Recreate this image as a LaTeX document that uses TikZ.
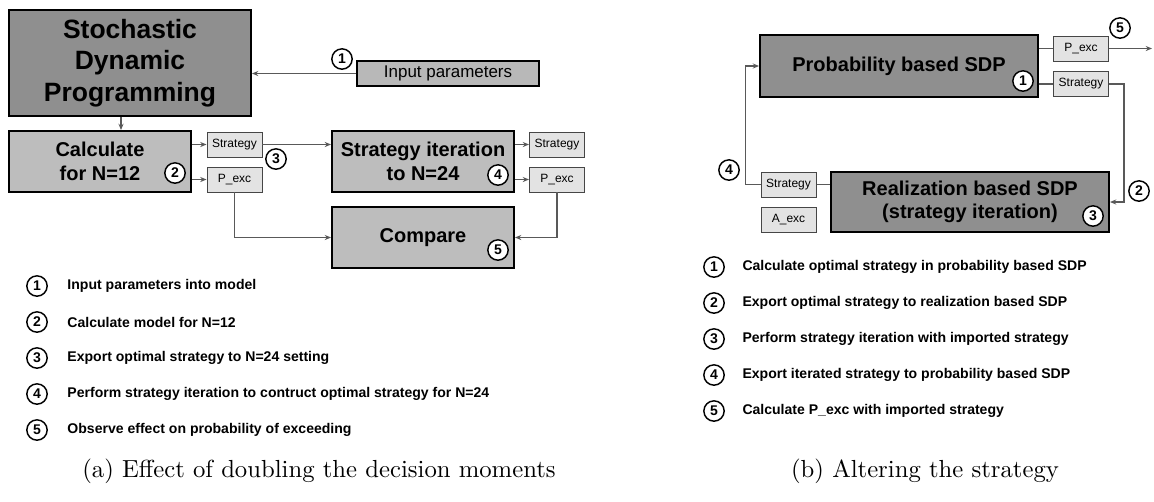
\documentclass[tikz,border=0pt]{standalone}
\usepackage{fontspec}
\newfontfamily\arial{Liberation Sans}
\usetikzlibrary{arrows.meta}
\definecolor{tmava}{gray}{0.56}
\definecolor{stredni}{gray}{0.74}
\definecolor{vstup}{gray}{0.72}
\definecolor{svetla}{gray}{0.89}
\definecolor{cara}{gray}{0.35}
\begin{document}
\begin{tikzpicture}[x=0.413pt,y=-0.413pt,>=Stealth,
  rozmer/.style 2 args={minimum width=#1*0.413pt,minimum height=#2*0.413pt},
  velky/.style={draw=black,line width=0.8pt,fill=tmava,align=center,inner sep=0pt,
    font=\arial\bfseries\fontsize{8.26}{9.7}\selectfont},
  blok/.style={velky,fill=stredni},
  maly/.style={draw=gray!55!black,line width=0.4pt,fill=svetla,inner sep=0pt,rozmer={55}{25},
    font=\arial\fontsize{4.96}{6}\selectfont},
  kolo/.style={circle,draw=black,fill=white,line width=0.6pt,minimum size=8.4pt,inner sep=0pt,
    font=\arial\bfseries\fontsize{5.8}{6}\selectfont},
  spoj/.style={draw=cara,line width=0.45pt},
  sipka/.style={spoj,-{Stealth[length=2.6pt,width=2.1pt]}},
  popis/.style={anchor=west,inner sep=0pt,font=\arial\bfseries\fontsize{5.8}{7}\selectfont}]
  \useasboundingbox (0,0) rectangle (1154,501);
  % (a) bloky
  \node[velky,rozmer={242}{106},font=\arial\bfseries\fontsize{10.94}{12.9}\selectfont]
       (sdp) at (130,63) {Stochastic\\Dynamic\\Programming};
  \node[velky,fill=vstup,rozmer={182}{25},font=\arial\fontsize{7}{8}\selectfont]
       (inp) at (448,73.5) {Input parameters};
  \node[blok,rozmer={182}{61}] (calc) at (100,161.5) {Calculate\\for N=12};
  \node[blok,rozmer={182}{61}] (iter) at (423,161.5) {Strategy iteration\\to N=24};
  \node[blok,rozmer={182}{61}] (cmp) at (423,237.5) {Compare};
  \node[maly] (strA) at (234.5,144.5) {Strategy};
  \node[maly] (pexA) at (234.5,179.5) {P\_exc};
  \node[maly] (strB) at (557,144.5) {Strategy};
  \node[maly] (pexB) at (557,179.5) {P\_exc};
  % (a) spoje
  \draw[sipka] (inp.west) -- (inp.west -| sdp.east);
  \draw[sipka] (sdp.south -| 121,0) -- (calc.north -| 121,0);
  \draw[sipka] (strA.west -| calc.east) -- (strA.west);
  \draw[sipka] (pexA.west -| calc.east) -- (pexA.west);
  \draw[sipka] (strA.east) -- (strA.east -| iter.west);
  \draw[sipka] (strB.west -| iter.east) -- (strB.west);
  \draw[sipka] (pexB.west -| iter.east) -- (pexB.west);
  \draw[sipka] (pexA.south) |- (cmp.west);
  \draw[sipka] (pexB.south) |- (cmp.east);
  % (a) cisla kroku
  \node[kolo] (a1) at (342,59) {1};
  \node[kolo] (a2) at (175,173) {2};
  \node[kolo] (a3) at (276,159) {3};
  \node[kolo] (a4) at (498,175) {4};
  \node[kolo] (a5) at (498,250) {5};
  % (a) legenda
  \node[kolo] (la1) at (37,286) {1}; \node[popis] at (67,286) {Input parameters into model};
  \node[kolo] (la2) at (37,322) {2}; \node[popis] at (67,322) {Calculate model for N=12};
  \node[kolo] (la3) at (37,358) {3}; \node[popis] at (67,358) {Export optimal strategy to N=24 setting};
  \node[kolo] (la4) at (37,394) {4}; \node[popis] at (67,394) {Perform strategy iteration to contruct optimal strategy for N=24};
  \node[kolo] (la5) at (37,430) {5}; \node[popis] at (67,430) {Observe effect on probability of exceeding};
  % (b) bloky
  \node[velky,rozmer={278}{62}] (prob) at (899,66) {Probability based SDP};
  \node[velky,rozmer={278}{60}] (real) at (970,202) {Realization based SDP\\(strategy iteration)};
  \node[maly] (pexC) at (1081,48.5) {P\_exc};
  \node[maly] (strC) at (1081,84) {Strategy};
  \node[maly] (strD) at (788.5,184.5) {Strategy};
  \node[maly] (aexc) at (788.5,220) {A\_exc};
  \coordinate (ven) at (1152,48.5);
  % (b) spoje
  \draw[spoj] (pexC.west -| prob.east) -- (pexC.west);
  \draw[spoj] (strC.west -| prob.east) -- (strC.west);
  \draw[sipka] (pexC.east) -- (ven);
  \draw[sipka] (strC.east) -- ++(15,0) |- (real.east);
  \draw[spoj] (strD.east) -- (strD.east -| real.west);
  \draw[sipka] (strD.west) -- ++(-15,0) |- (prob.west);
  % (b) cisla kroku
  \node[kolo] (b1) at (1023,81) {1};
  \node[kolo] (b2) at (1139,191) {2};
  \node[kolo] (b3) at (1093,216) {3};
  \node[kolo] (b4) at (729,170) {4};
  \node[kolo] (b5) at (1120,28) {5};
  % (b) legenda
  \node[kolo] (lb1) at (714,267) {1}; \node[popis] at (742,267) {Calculate optimal strategy in probability based SDP};
  \node[kolo] (lb2) at (714,303) {2}; \node[popis] at (742,303) {Export optimal strategy to realization based SDP};
  \node[kolo] (lb3) at (714,339) {3}; \node[popis] at (742,339) {Perform strategy iteration with imported strategy};
  \node[kolo] (lb4) at (714,375) {4}; \node[popis] at (742,375) {Export iterated strategy to probability based SDP};
  \node[kolo] (lb5) at (714,411) {5}; \node[popis] at (742,411) {Calculate P\_exc with imported strategy};
  % popisky podobrazku
  \node[font=\fontsize{10.2}{12}\selectfont] (capa) at (319,471) {(a) Effect of doubling the decision moments};
  \node[font=\fontsize{10.2}{12}\selectfont] (capb) at (925,471) {(b) Altering the strategy};
\end{tikzpicture}
\end{document}
